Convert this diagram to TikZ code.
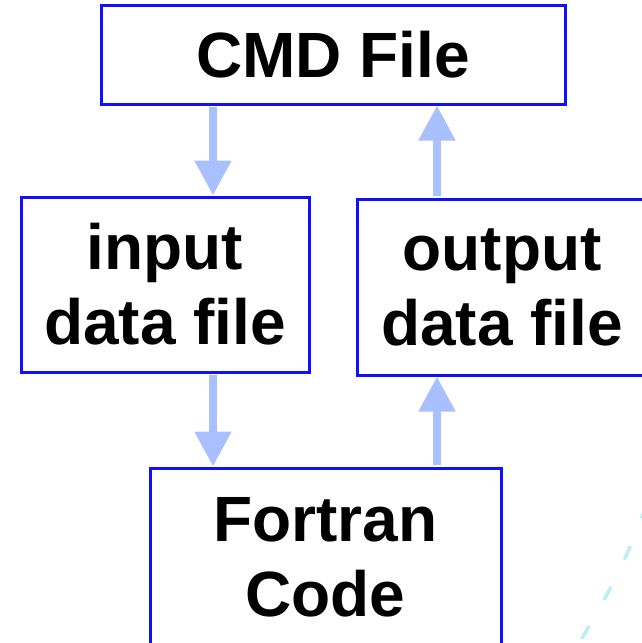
\documentclass[tikz,border=0pt]{standalone}
\usepackage{fontspec}
\setmainfont{Liberation Sans}
\usetikzlibrary{arrows.meta}
\definecolor{boxblue}{RGB}{16,16,250}
\definecolor{flowblue}{RGB}{168,192,255}
\definecolor{traceteal}{RGB}{185,238,245}
\begin{document}
\begin{tikzpicture}[x=1pt,y=-1pt,
  box/.style={draw=boxblue,line width=3pt,inner sep=0pt,align=center,
    font=\fontsize{64}{75}\selectfont\bfseries},
  flow/.style={draw=flowblue,line width=8pt,shorten <=1.5pt,
    -{Triangle[width=35pt,length=35pt]}}]
\useasboundingbox (0,0) rectangle (641,643);

% faint dashed trace in the lower right corner
\draw[traceteal,line width=3.5pt,dash pattern=on 15pt off 30pt,dash phase=2pt]
  (646,506) .. controls (625,565) and (605,600) .. (572,655);

% boxes
\node[box,minimum width=464pt,minimum height=99pt]  (cmd) at (333,54.5) {CMD File};
\node[box,minimum width=288pt,minimum height=175pt] (inp) at (165,284.5) {input\\data file};
\node[box,minimum width=290pt,minimum height=176pt] (out) at (502,287) {output\\data file};
\node[box,minimum width=351pt,minimum height=178pt] (ftn) at (325.5,557) {Fortran\\Code};

% columns for the flow arrows
\coordinate (lx) at (213,0);
\coordinate (rx) at (437,0);

% data flow
\draw[flow] (cmd.south -| lx) -- (inp.north -| lx);
\draw[flow] (inp.south -| lx) -- (ftn.north -| lx);
\draw[flow] (ftn.north -| rx) -- (out.south -| rx);
\draw[flow] (out.north -| rx) -- (cmd.south -| rx);
\end{tikzpicture}
\end{document}
